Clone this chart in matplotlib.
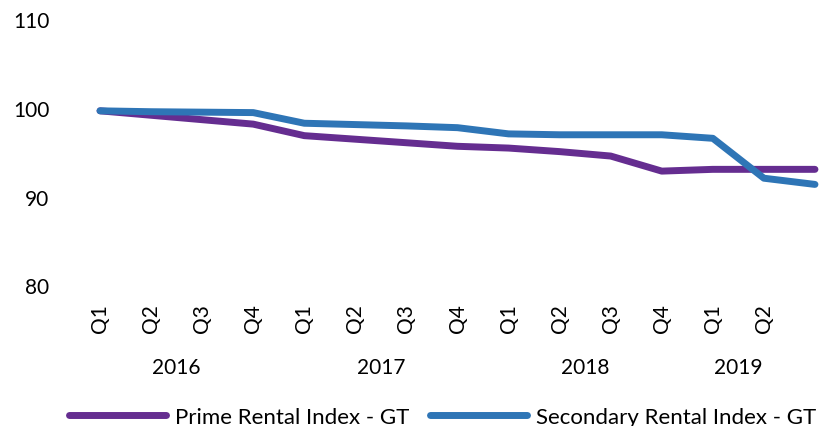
import matplotlib
matplotlib.use("Agg")
import matplotlib.pyplot as plt
import matplotlib.transforms as mtransforms

plt.rcParams['font.family'] = ['Lato', 'DejaVu Sans']

# quarterly rental index, Q1 2016 = 100
quarters = ['Q1', 'Q2', 'Q3', 'Q4', 'Q1', 'Q2', 'Q3', 'Q4',
            'Q1', 'Q2', 'Q3', 'Q4', 'Q1', 'Q2', '']
years = ['2016', '2017', '2018', '2019']
year_quarters = [4, 4, 4, 2]
prime = [99.7, 99.2, 98.7, 98.2, 96.9, 96.5, 96.1, 95.7,
         95.5, 95.1, 94.6, 92.9, 93.1, 93.1, 93.1]
secondary = [99.7, 99.6, 99.55, 99.5, 98.3, 98.15, 98.0, 97.8,
             97.1, 97.0, 97.0, 97.0, 96.6, 92.1, 91.4]

W, H = 833, 427
fig = plt.figure(figsize=(W / 100, H / 100), dpi=100)
ax = fig.add_axes([74.5 / W, 140.5 / H, 766 / W, 266 / H])

x = list(range(len(quarters)))
ax.plot(x, prime, color='#652D90', lw=5.0, solid_capstyle='round',
        solid_joinstyle='round', label='Prime Rental Index - GT')
ax.plot(x, secondary, color='#2E75B6', lw=5.0, solid_capstyle='round',
        solid_joinstyle='round', label='Secondary Rental Index - GT')

ax.set_xlim(-0.5, len(quarters) - 0.5)
ax.set_ylim(80, 110)
ax.set_yticks([80, 90, 100, 110])
ax.set_xticks(x)
ax.set_xticklabels(quarters, rotation=90, fontsize=15)
ax.tick_params(axis='y', length=0, pad=18, labelsize=15)
ax.tick_params(axis='x', length=0, pad=13)
for s in ax.spines.values():
    s.set_visible(False)

# year labels centred under each group of quarters
trans = mtransforms.blended_transform_factory(ax.transData, ax.transAxes)
start = 0
for yr, n in zip(years, year_quarters):
    ax.text(start + (n - 1) / 2, -82 / 266, yr, transform=trans,
            ha='center', va='center', fontsize=15)
    start += n

fig.legend(loc='center', bbox_to_anchor=(442.5 / W, 9 / H), ncol=2,
           frameon=False, fontsize=16, handlelength=4.4,
           handletextpad=0.4, columnspacing=0.9)

fig.savefig('out.png', dpi=100)
